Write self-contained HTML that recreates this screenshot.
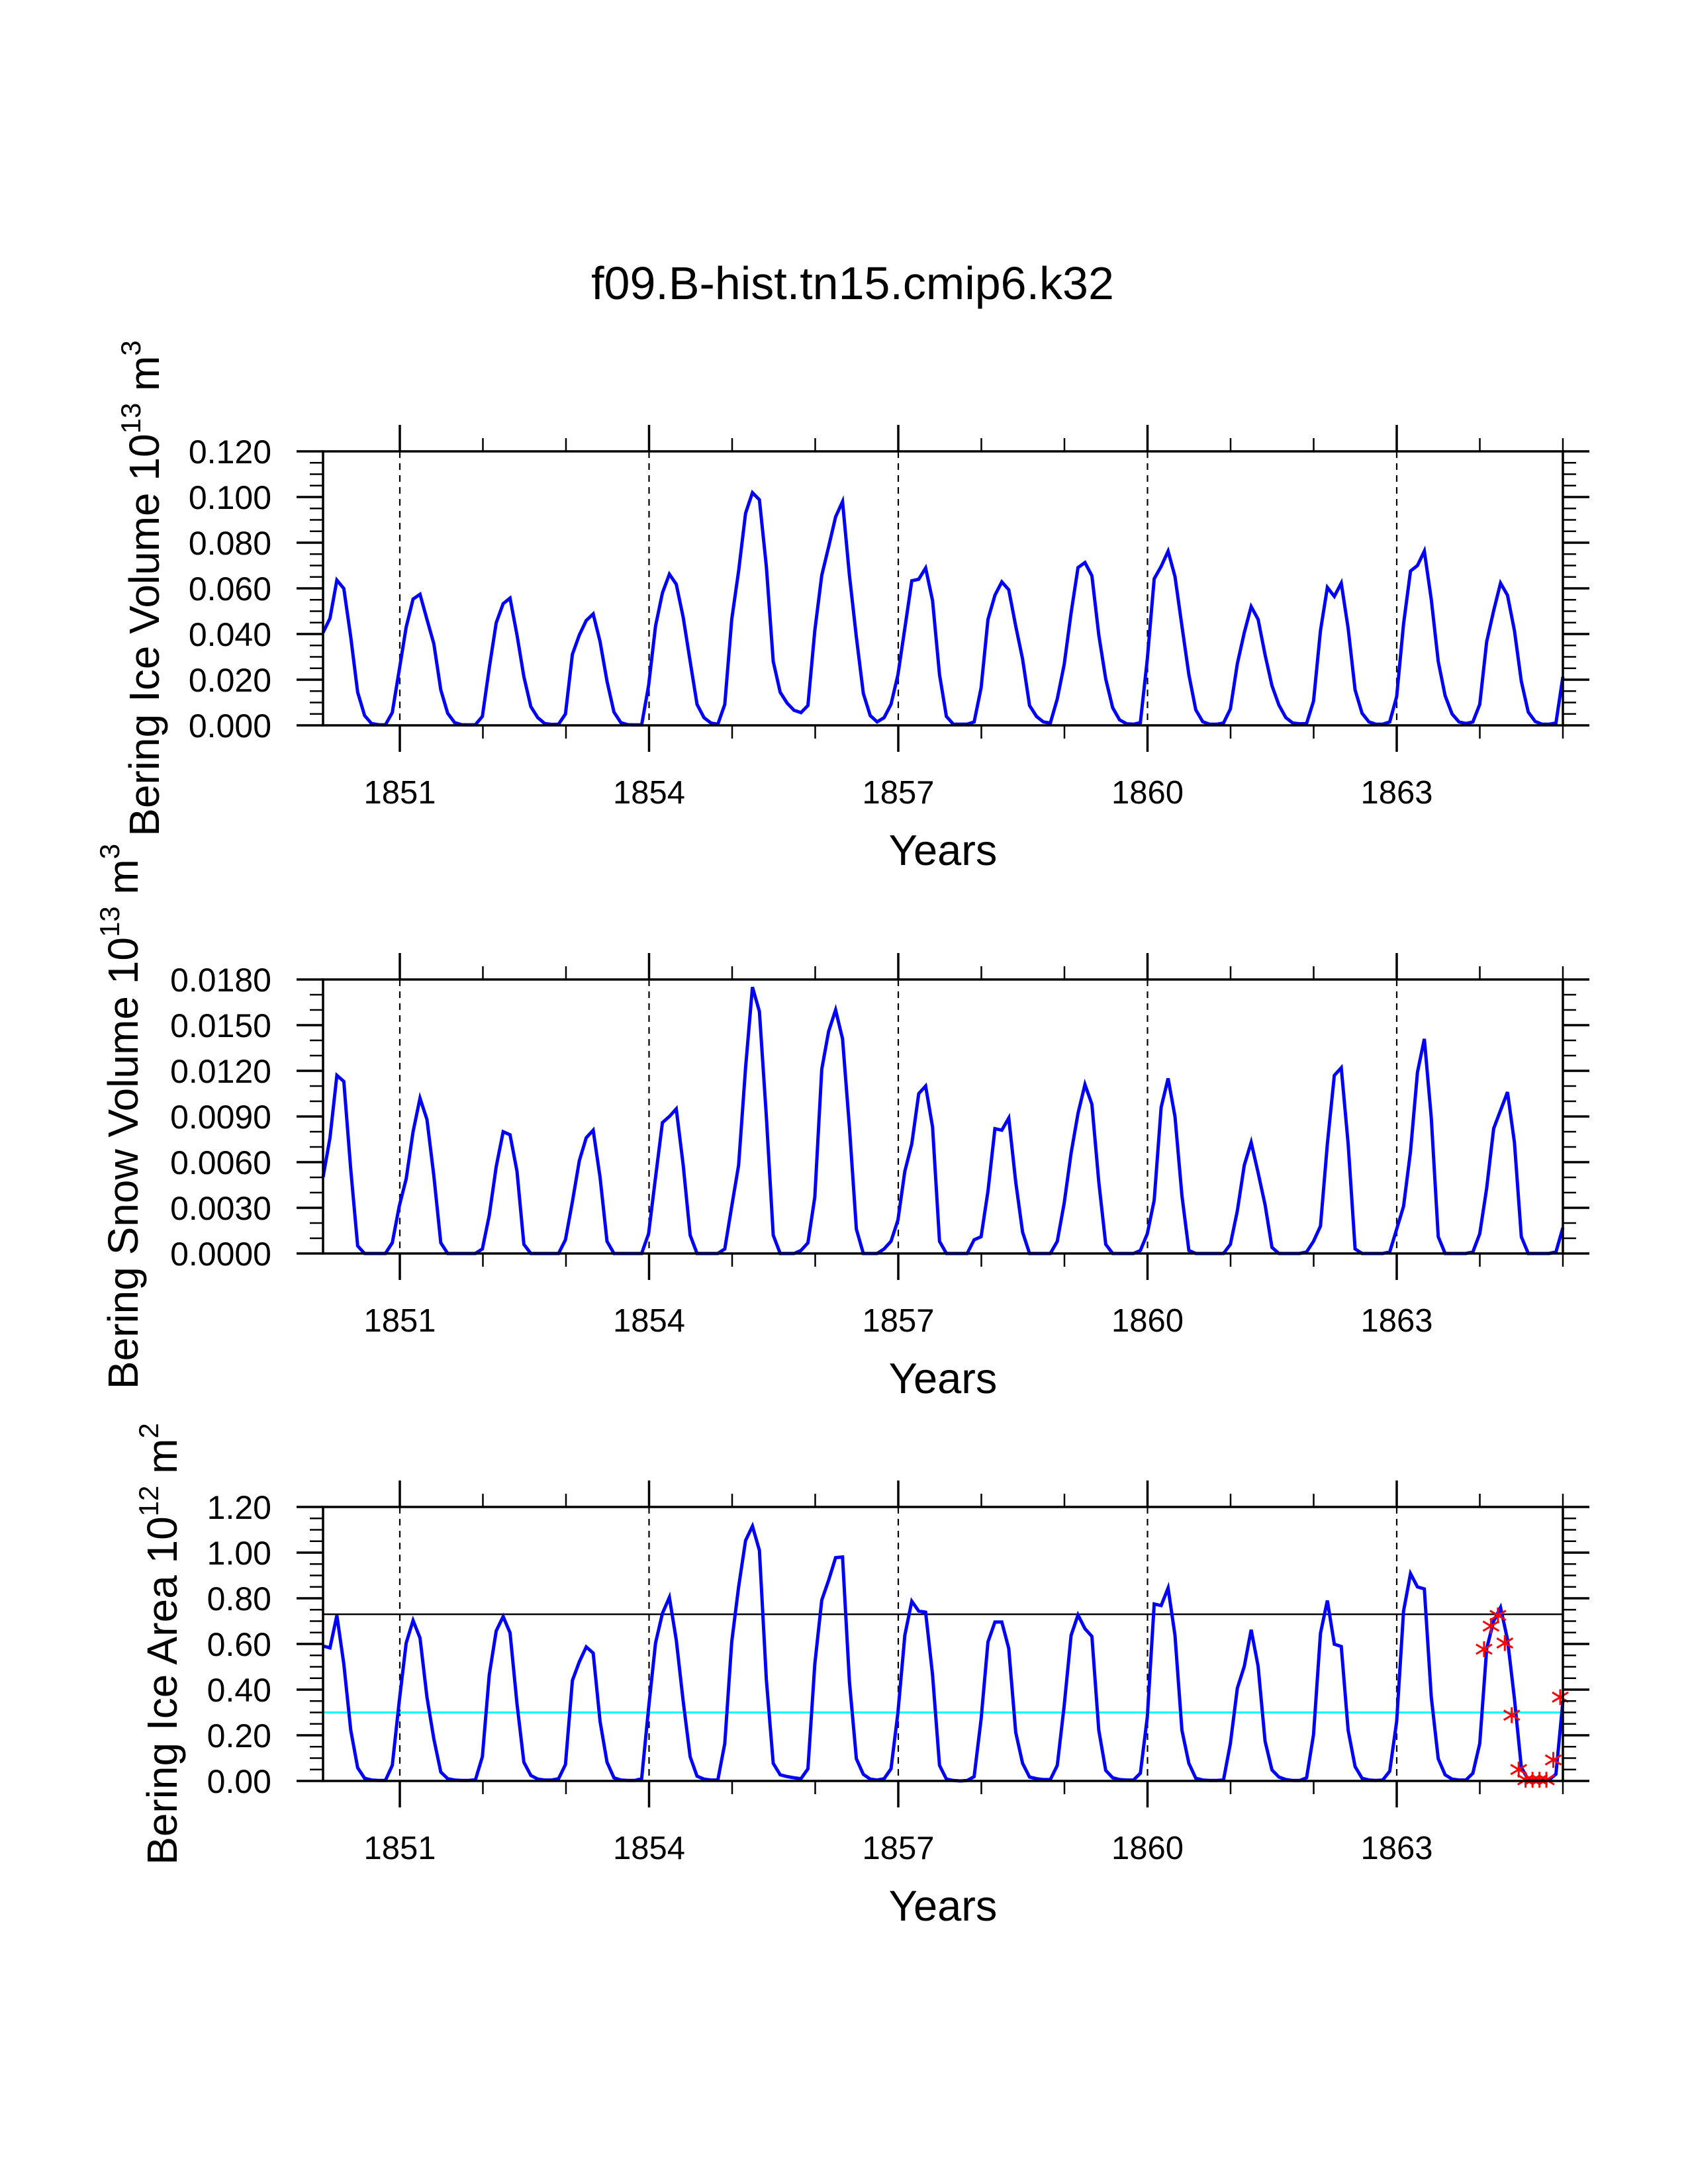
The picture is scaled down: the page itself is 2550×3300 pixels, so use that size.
<!DOCTYPE html>
<html><head><meta charset="utf-8"><title>f09.B-hist.tn15.cmip6.k32</title>
<style>html,body{margin:0;padding:0;background:#fff}svg{display:block}</style></head>
<body>
<svg id="chart" xmlns="http://www.w3.org/2000/svg" width="2550" height="3300" viewBox="0 0 2550 3300" font-family="Liberation Sans, sans-serif">
<rect width="2550" height="3300" fill="#fff"/>
<text x="1288" y="452" font-size="70" text-anchor="middle">f09.B-hist.tn15.cmip6.k32</text>
</svg>
<script>
const iceVolume = [0.0406,0.0469,0.0636,0.0599,0.0386,0.0145,0.0043,0.0008,0.0003,0.0002,0.0056,0.0242,
0.043,0.0553,0.0574,0.0464,0.0357,0.0155,0.0053,0.0012,0.0003,0.0002,0.0003,0.0039,
0.0251,0.0449,0.0533,0.0557,0.0396,0.0213,0.0082,0.0034,0.0008,0.0004,0.0005,0.005,
0.0311,0.0396,0.0459,0.0488,0.0367,0.0193,0.0058,0.0012,0.0003,0.0002,0.0002,0.0174,
0.0435,0.058,0.0662,0.0618,0.0473,0.028,0.0092,0.0034,0.001,0.0005,0.0092,0.0464,
0.0676,0.0929,0.1019,0.0988,0.0696,0.028,0.0145,0.0097,0.0066,0.0056,0.0087,0.0415,
0.0657,0.0782,0.0913,0.098,0.0657,0.0386,0.014,0.0043,0.0015,0.0034,0.0092,0.0222,
0.0425,0.0633,0.064,0.0689,0.0546,0.0222,0.0039,0.0005,0.0005,0.0005,0.0015,0.0164,
0.0464,0.057,0.0628,0.0594,0.0435,0.029,0.0087,0.0039,0.0015,0.001,0.0116,0.0266,
0.0493,0.0691,0.0713,0.0655,0.0396,0.0203,0.0077,0.0024,0.0007,0.0005,0.0012,0.029,
0.0642,0.0696,0.0763,0.0652,0.0435,0.0222,0.0068,0.0016,0.0005,0.0005,0.001,0.0072,
0.027,0.0406,0.052,0.0464,0.0309,0.0174,0.0089,0.0034,0.001,0.0007,0.0008,0.0106,
0.0415,0.0604,0.0565,0.0623,0.0425,0.0155,0.0053,0.0015,0.0005,0.0005,0.0015,0.0126,
0.0444,0.0676,0.07,0.0763,0.0551,0.028,0.013,0.005,0.0015,0.0008,0.0015,0.0092,
0.0367,0.0502,0.0623,0.057,0.0415,0.0193,0.0058,0.0017,0.0005,0.0005,0.001,0.0213];
const snowVolume = [0.0050,0.0076,0.0117,0.0113,0.0055,0.0005,0,0,0,0,0.0007,0.0031,
0.0049,0.008,0.0102,0.0088,0.0051,0.0007,0,0,0,0,0,0.0003,
0.0025,0.0057,0.008,0.0078,0.0054,0.0006,0,0,0,0,0,0.0009,
0.0034,0.0061,0.0076,0.0081,0.005,0.0008,0,0,0,0,0,0.0013,
0.005,0.0086,0.009,0.0095,0.0058,0.0012,0,0,0,0,0.0003,0.0031,
0.0058,0.0122,0.0175,0.0159,0.009,0.0012,0,0,0,0.0002,0.0007,0.0037,
0.0121,0.0146,0.016,0.0141,0.0083,0.0016,0,0,0,0.0003,0.0008,0.0022,
0.0054,0.0072,0.0105,0.011,0.0083,0.0008,0,0,0,0,0.0009,0.0011,
0.0041,0.0082,0.0081,0.0089,0.0047,0.0014,0,0,0,0,0.0008,0.0033,
0.0066,0.0092,0.0111,0.0098,0.0047,0.0006,0,0,0,0,0.0002,0.0013,
0.0035,0.0096,0.0115,0.009,0.0038,0.0002,0,0,0,0,0,0.0006,
0.0028,0.0058,0.0073,0.0053,0.0032,0.0004,0,0,0,0,0.0001,0.0008,
0.0018,0.0072,0.0117,0.0122,0.0072,0.0003,0,0,0,0,0.0001,0.0016,
0.0031,0.0067,0.0119,0.0141,0.0089,0.0011,0,0,0,0,0.0001,0.0013,
0.0043,0.0082,0.0094,0.0106,0.0073,0.0011,0,0,0,0,0.0001,0.0017];
const iceArea = [0.591,0.583,0.725,0.512,0.222,0.058,0.012,0.004,0.002,0.002,0.068,0.348,
0.604,0.703,0.626,0.367,0.184,0.039,0.01,0.004,0.002,0.002,0.005,0.106,
0.464,0.657,0.72,0.649,0.338,0.082,0.024,0.008,0.004,0.004,0.01,0.072,
0.44,0.522,0.587,0.56,0.261,0.082,0.014,0.004,0.002,0.002,0.01,0.319,
0.604,0.734,0.804,0.618,0.348,0.106,0.021,0.008,0.004,0.004,0.164,0.609,
0.85,1.053,1.116,1.01,0.444,0.077,0.027,0.019,0.014,0.01,0.053,0.512,
0.792,0.879,0.978,0.981,0.435,0.097,0.029,0.008,0.004,0.01,0.053,0.3,
0.638,0.787,0.744,0.739,0.464,0.068,0.008,0.002,0,0.002,0.019,0.27,
0.609,0.696,0.696,0.58,0.213,0.077,0.017,0.01,0.006,0.006,0.068,0.329,
0.638,0.727,0.667,0.633,0.222,0.046,0.014,0.006,0.004,0.004,0.034,0.28,
0.775,0.768,0.845,0.638,0.222,0.077,0.012,0.004,0.002,0.002,0.004,0.164,
0.406,0.502,0.662,0.502,0.174,0.048,0.017,0.006,0.002,0.002,0.014,0.203,
0.647,0.79,0.599,0.589,0.222,0.063,0.012,0.004,0.002,0.004,0.043,0.261,
0.744,0.908,0.85,0.841,0.367,0.097,0.027,0.008,0.004,0.004,0.034,0.164,
0.58,0.70,0.76,0.62,0.36,0.06,0.005,0.003,0.003,0.005,0.03,0.35];
const climArea = [0.577,0.678,0.725,0.604,0.288,0.05,0.005,0.005,0.005,0.005,0.092,0.367];
const refLines = [0.73,0.30];
const yearLabels = [1851,1854,1857,1860,1863];
const ticksIceVol = ["0.000","0.020","0.040","0.060","0.080","0.100","0.120"];
const ticksSnow = ["0.0000","0.0030","0.0060","0.0090","0.0120","0.0150","0.0180"];
const ticksArea = ["0.00","0.20","0.40","0.60","0.80","1.00","1.20"];

const NS = "http://www.w3.org/2000/svg";
const svg = document.getElementById('chart');
const L = 488, R = 2361;
function xYear(y){ return 604 + (y - 1851) * 125.5; }
function xIdx(i){ return L + i * (R - L) / 179; }
function mk(tag, attrs, parent){
  const e = document.createElementNS(NS, tag);
  for (const k in attrs) e.setAttribute(k, attrs[k]);
  (parent || svg).appendChild(e);
  return e;
}

function panel(cfg){
  const g = mk('g', {});
  
  
  const T = cfg.top, B = cfg.top + 414;
  const yv = v => B - (v / cfg.max) * (B - T);
  yearLabels.forEach(yr => {
    const d = mk('line', {x1: xYear(yr), x2: xYear(yr), y1: T, y2: B, stroke: '#000', 'stroke-width': 2.2, 'stroke-dasharray': '10 8'}, g);
    
    
  });
  if (cfg.refs) {
    const hl = mk('line', {x1: L, x2: R, y1: yv(refLines[0]), y2: yv(refLines[0]), stroke: '#000', 'stroke-width': 2.5}, g);
    
    
    const cl = mk('line', {x1: L, x2: R, y1: yv(refLines[1]), y2: yv(refLines[1]), stroke: '#00ffff', 'stroke-width': 3}, g);
    
    
  }
  const pts = cfg.data.map((v, i) => xIdx(i).toFixed(1) + ',' + yv(v).toFixed(1)).join(' ');
  const pl = mk('polyline', {points: pts, fill: 'none', stroke: '#0000ff', 'stroke-width': 5, 'stroke-linejoin': 'miter'}, g);
  
  
  if (cfg.markers) {
    climArea.forEach((v, j) => {
      const cx = xIdx(168 + j) - 4, cy = yv(v), s = 12;
      const m = mk('path', {d: `M${cx-s},${cy-s*0.6}L${cx+s},${cy+s*0.6}M${cx-s},${cy+s*0.6}L${cx+s},${cy-s*0.6}M${cx},${cy-s}L${cx},${cy+s}`, stroke: '#ff0000', 'stroke-width': 3, fill: 'none'}, g);
      
      
    });
  }
  const fr = mk('rect', {x: L, y: T, width: R - L, height: B - T, fill: 'none', stroke: '#000', 'stroke-width': 3.5}, g);
  
  
  for (let yr = 1851; yr <= 1865; yr++) {
    const x = xYear(yr);
    const major = (yr - 1851) % 3 === 0;
    const len = major ? 40 : 20;
    mk('line', {x1: x, x2: x, y1: T, y2: T - len, stroke: '#000', 'stroke-width': major ? 3.5 : 2.5}, g);
    mk('line', {x1: x, x2: x, y1: B, y2: B + len, stroke: '#000', 'stroke-width': major ? 3.5 : 2.5}, g);
  }
  yearLabels.forEach(yr => {
    const t = mk('text', {x: xYear(yr), y: B + 118, 'font-size': 49, 'text-anchor': 'middle'}, g);
    
    
    t.textContent = yr;
  });
  const nMinor = cfg.minorPer * (cfg.ticks.length - 1);
  for (let k = 0; k <= nMinor; k++) {
    const y = B - k * (B - T) / nMinor;
    const major = k % cfg.minorPer === 0;
    const len = major ? 40 : 20;
    mk('line', {x1: L, x2: L - len, y1: y, y2: y, stroke: '#000', 'stroke-width': major ? 3.5 : 2.5}, g);
    mk('line', {x1: R, x2: R + len, y1: y, y2: y, stroke: '#000', 'stroke-width': major ? 3.5 : 2.5}, g);
  }
  cfg.ticks.forEach((lab, k) => {
    const t = mk('text', {x: 410, y: B - k * (B - T) / (cfg.ticks.length - 1) + 18, 'font-size': 50, 'text-anchor': 'end'}, g);
    
    
    t.textContent = lab;
  });
  const xt = mk('text', {x: (L + R) / 2, y: B + 211, 'font-size': 65, 'text-anchor': 'middle'}, g);
  
  
  xt.textContent = 'Years';
  const cy = (T + B) / 2;
  const yt = mk('text', {x: 0, y: 0, 'font-size': 64, 'text-anchor': 'middle', transform: `translate(${cfg.titleX},${cy}) rotate(-90)`}, g);
  
  
  cfg.title.forEach(p => {
    const ts = mk('tspan', p.sup ? {'font-size': 42, dy: -28} : {dy: p.back ? 28 : 0}, yt);
    ts.textContent = p.t;
  });
}

panel({name: 'ice-volume-panel', top: 682, max: 0.12, data: iceVolume, ticks: ticksIceVol, minorPer: 4, titleX: 240,
  title: [{t: 'Bering Ice Volume 10'}, {t: '13', sup: true}, {t: ' m', back: true}, {t: '3', sup: true}]});
panel({name: 'snow-volume-panel', top: 1480, max: 0.018, data: snowVolume, ticks: ticksSnow, minorPer: 3, titleX: 208,
  title: [{t: 'Bering Snow Volume 10'}, {t: '13', sup: true}, {t: ' m', back: true}, {t: '3', sup: true}]});
panel({name: 'ice-area-panel', top: 2277, max: 1.2, data: iceArea, ticks: ticksArea, minorPer: 4, titleX: 267,
  title: [{t: 'Bering Ice Area 10'}, {t: '12', sup: true}, {t: ' m', back: true}, {t: '2', sup: true}], refs: true, markers: true});
</script>
</body></html>
